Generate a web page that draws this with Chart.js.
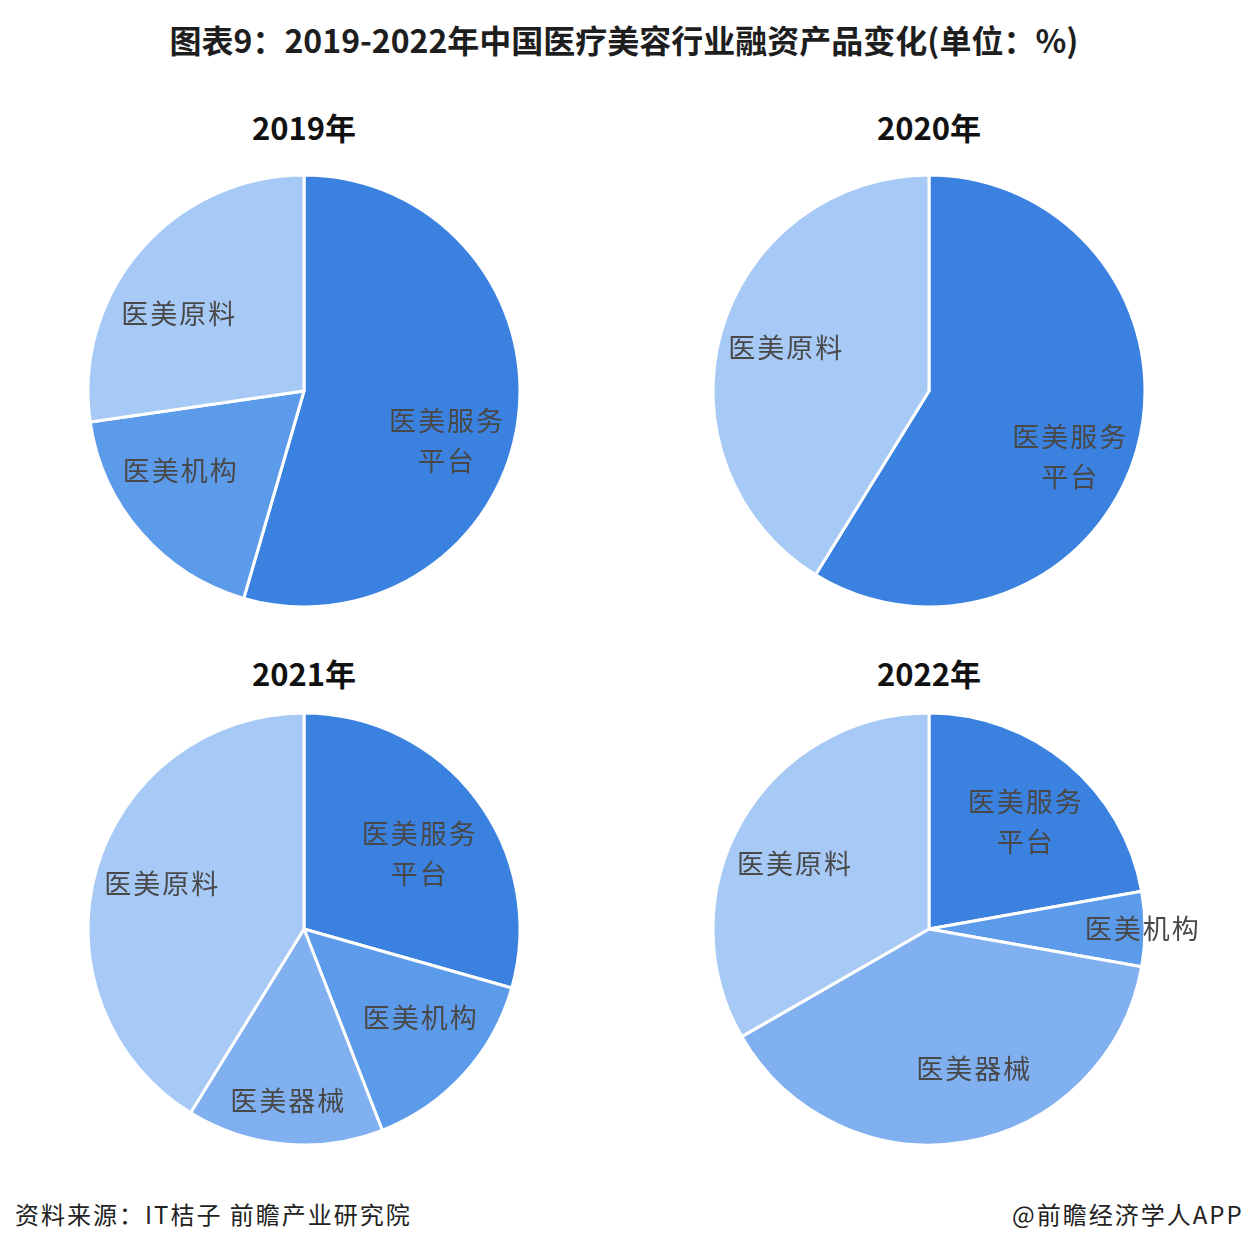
<!DOCTYPE html>
<html lang="zh-CN">
<head>
    <meta charset="UTF-8">
    <title>医疗美容行业融资产品变化</title>
    <script src="https://cdn.jsdelivr.net/npm/chart.js"></script>
    <style>
        html, body { margin: 0; padding: 0; }
        body {
            width: 1248px; height: 1256px; position: relative; overflow: hidden;
            background: #ffffff;
            font-family: "Noto Sans CJK SC", "Noto Sans", sans-serif;
        }
        .title {
            position: absolute; left: 0; width: 1248px; top: 15px; text-align: center;
            font-size: 32px; font-weight: bold; color: #1e1e1e; line-height: 48px;
        }
        .year {
            position: absolute; width: 300px; text-align: center;
            font-size: 31px; font-weight: bold; color: #111; line-height: 40px;
        }
        .pie { position: absolute; }
        .foot { position: absolute; top: 1196px; font-size: 24px; color: #222; line-height: 36px; letter-spacing: 2px; }
    </style>
</head>
<body>
    <div class="title">图表9：2019-2022年中国医疗美容行业融资产品变化(单位：%)</div>

    <div class="year" style="left:154px; top:107px;">2019年</div>
    <div class="year" style="left:779px; top:107px;">2020年</div>
    <div class="year" style="left:154px; top:653px;">2021年</div>
    <div class="year" style="left:779px; top:653px;">2022年</div>

    <canvas id="pie2019" class="pie" width="600" height="480" style="left:4px; top:151px;"></canvas>
    <canvas id="pie2020" class="pie" width="600" height="480" style="left:629px; top:151px;"></canvas>
    <canvas id="pie2021" class="pie" width="600" height="480" style="left:4px; top:689px;"></canvas>
    <canvas id="pie2022" class="pie" width="600" height="480" style="left:629px; top:689px;"></canvas>

    <div class="foot" style="left:15px;">资料来源：IT桔子 前瞻产业研究院</div>
    <div class="foot" style="left:1012px;">@前瞻经济学人APP</div>

<script>
// 数据（单位：%）
const cats2019 = ['医美服务平台', '医美机构', '医美原料'];
const vals2019 = [54.5, 18.2, 27.3];

const cats2020 = ['医美服务平台', '医美原料'];
const vals2020 = [58.8, 41.2];

const cats2021 = ['医美服务平台', '医美机构', '医美器械', '医美原料'];
const vals2021 = [29.4, 14.7, 14.7, 41.2];

const cats2022 = ['医美服务平台', '医美机构', '医美器械', '医美原料'];
const vals2022 = [22.2, 5.6, 38.9, 33.3];

// 颜色
const colorMap = {
    '医美服务平台': '#3b82e0',
    '医美机构': '#5c9be9',
    '医美器械': '#80b0f0',
    '医美原料': '#a7c9f6'
};

// 标签位置微调：[相对扇区中线的角度偏移(度), 半径倍数]
const labelPos = {
    pie2019: { '医美服务平台': [11, 0.70], '医美机构': [8, 0.68], '医美原料': [-9, 0.68] },
    pie2020: { '医美服务平台': [9, 0.72], '医美原料': [1, 0.69] },
    pie2021: { '医美服务平台': [4, 0.64], '医美机构': [-5, 0.68], '医美器械': [0, 0.80], '医美原料': [2, 0.69] },
    pie2022: { '医美服务平台': [2, 0.67], '医美机构': [0, 0.99], '医美器械': [-8, 0.68], '医美原料': [-4, 0.69] }
};

// 扇区内文字
const sliceLabels = {
    id: 'sliceLabels',
    afterDatasetsDraw(chart) {
        const ctx = chart.ctx;
        const meta = chart.getDatasetMeta(0);
        const cats = chart.data.labels;
        const over = labelPos[chart.canvas.id] || {};
        ctx.save();
        ctx.font = '27px "Noto Sans CJK SC", sans-serif';
        ctx.letterSpacing = '2px';
        ctx.fillStyle = '#484848';
        ctx.textAlign = 'center';
        ctx.textBaseline = 'middle';
        meta.data.forEach((arc, i) => {
            const p = arc.getProps(['x', 'y', 'startAngle', 'endAngle', 'outerRadius'], true);
            const adj = over[cats[i]] || [0, 0.68];
            const mid = (p.startAngle + p.endAngle) / 2 + adj[0] * Math.PI / 180;
            const x = p.x + Math.cos(mid) * p.outerRadius * adj[1];
            const y = p.y + Math.sin(mid) * p.outerRadius * adj[1];
            const name = cats[i];
            const lines = name.length > 4 ? [name.slice(0, 4), name.slice(4)] : [name];
            const lh = 40;
            lines.forEach((t, j) => {
                ctx.fillText(t, x, y + (j - (lines.length - 1) / 2) * lh);
            });
        });
        ctx.restore();
    }
};

function makePie(id, cats, vals) {
    new Chart(document.getElementById(id).getContext('2d'), {
        type: 'pie',
        data: {
            labels: cats,
            datasets: [{
                data: vals,
                backgroundColor: cats.map(c => colorMap[c]),
                borderColor: '#ffffff',
                borderWidth: 3,
                radius: 216
            }]
        },
        options: {
            responsive: false,
            animation: false,
            layout: { padding: 0 },
            plugins: {
                legend: { display: false },
                tooltip: { enabled: false }
            }
        },
        plugins: [sliceLabels]
    });
}

makePie('pie2019', cats2019, vals2019);
makePie('pie2020', cats2020, vals2020);
makePie('pie2021', cats2021, vals2021);
makePie('pie2022', cats2022, vals2022);
</script>
</body>
</html>
